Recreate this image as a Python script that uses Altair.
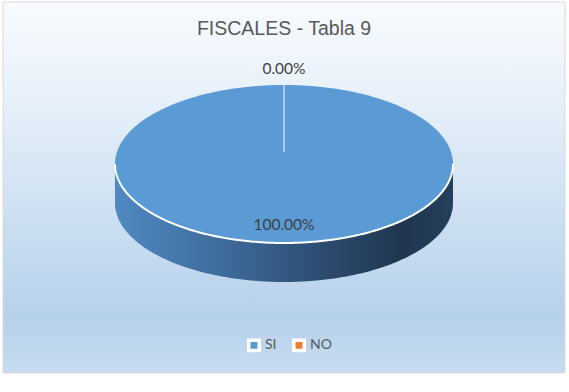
import altair as alt
import numpy as np
import pandas as pd

# ---- data ----
categories = ["SI", "NO"]
values = [100.0, 0.0]
slice_colors = ["#5B9BD5", "#ED7D31"]
chart_title = "FISCALES - Tabla 9"

# ---- layout (pixels / unit radii) ----
W, H = 569, 392
CX, CY, RX, RY = 284, 164, 169, 79
DEPTH = 39 / 79          # depth of the 3-D wall, in units of the vertical radius
APEX_Y = 0.15            # apparent centre of the tilted top face
N = 241

total = sum(values)
fracs = [v / total for v in values]
cum = np.concatenate([[0.0], np.cumsum(fracs)])
main_slice = categories[int(np.argmax(values))]

t = np.linspace(0, np.pi, N)
top_df = pd.DataFrame({"x": np.cos(t), "y": np.sin(t), "y2": -np.sin(t), "slice": main_slice})
side_df = pd.DataFrame({"x": np.cos(t), "y": -np.sin(t), "y2": -np.sin(t) - DEPTH})
low_edge = pd.DataFrame({"x": np.cos(t), "y": -np.sin(t)})

# slice borders (clockwise from 12 o'clock)
angles = sorted(set(round((c * 360) % 360, 6) for c in cum))
border_df = pd.DataFrame({
    "x": [0.0] * len(angles),
    "y": [APEX_Y] * len(angles),
    "x2": [np.sin(np.radians(a)) for a in angles],
    "y2": [np.cos(np.radians(a)) for a in angles],
})

# data labels
lab_rows = []
for i, (c, v) in enumerate(zip(categories, values)):
    mid = np.radians((cum[i] + cum[i + 1]) / 2 * 360)
    r = 0.77 if fracs[i] >= 0.05 else 1.2
    lab_rows.append({"x": r * np.sin(mid), "y": r * np.cos(mid), "text": f"{v:.2f}%", "slice": c})
lab_df = pd.DataFrame(lab_rows)

xs = alt.Scale(domain=[-1, 1], range=[CX - RX, CX + RX], nice=False, zero=False)
ys = alt.Scale(domain=[-1, 1], range=[CY + RY, CY - RY], nice=False, zero=False)
X = lambda f="x": alt.X(f"{f}:Q", scale=xs, axis=None)
Y = lambda f="y": alt.Y(f"{f}:Q", scale=ys, axis=None)

bg = alt.Chart(pd.DataFrame({"a": [0]})).mark_rect(
    color=alt.LinearGradient(
        gradient="linear", x1=0, x2=0, y1=0, y2=1,
        stops=[alt.GradientStop(offset=0, color="#F8FBFE"),
               alt.GradientStop(offset=0.25, color="#E8F1FA"),
               alt.GradientStop(offset=0.85, color="#B6D1EB"),
               alt.GradientStop(offset=1, color="#C7DCF0")]),
    stroke="#D9D9D9", strokeWidth=1,
).encode(x=alt.value(3), x2=alt.value(565), y=alt.value(2), y2=alt.value(373))

side = alt.Chart(side_df).mark_area(
    orient="vertical",
    color=alt.LinearGradient(
        gradient="linear", x1=0, x2=1, y1=0, y2=0,
        stops=[alt.GradientStop(offset=0, color="#5089C2"),
               alt.GradientStop(offset=0.3, color="#3F6D9E"),
               alt.GradientStop(offset=0.6, color="#2D4D72"),
               alt.GradientStop(offset=0.85, color="#203650"),
               alt.GradientStop(offset=1, color="#253E5B")]),
).encode(x=X(), y=Y(), y2="y2:Q")

top = alt.Chart(top_df).mark_area(orient="vertical").encode(
    x=X(), y=Y(), y2="y2:Q",
    color=alt.Color("slice:N", scale=alt.Scale(domain=categories, range=slice_colors),
                    legend=alt.Legend(orient="none", legendX=247, legendY=338, direction="horizontal",
                                      title=None, symbolType="square", symbolSize=110,
                                      symbolStrokeColor="white", symbolStrokeWidth=3.5,
                                      labelFont="Lato", labelFontSize=14, labelColor="#595959",
                                      columnPadding=9, labelOffset=4)),
)

edge_low = alt.Chart(low_edge).mark_line(color="white", strokeWidth=2).encode(x=X(), y=Y(), order="x:Q")

borders = alt.Chart(border_df).mark_rule(color="#A9CBEA", strokeWidth=2).encode(
    x=X(), y=Y(), x2="x2:Q", y2="y2:Q")

labels = alt.Chart(lab_df).mark_text(font="Lato", fontSize=15.5, color="#404040", baseline="middle").encode(
    x=X(), y=Y(), text="text:N")

title = alt.Chart(pd.DataFrame({"t": [chart_title]})).mark_text(
    font="Liberation Sans", fontSize=19.5, color="#595959", baseline="alphabetic"
).encode(x=alt.value(284), y=alt.value(35), text="t:N")

chart = alt.layer(bg, side, top, edge_low, borders, labels, title).properties(
    width=W, height=H, autosize="none", padding=0
).configure_view(stroke=None)

chart.save("out.html", embed_options={"renderer": "svg", "actions": False})
